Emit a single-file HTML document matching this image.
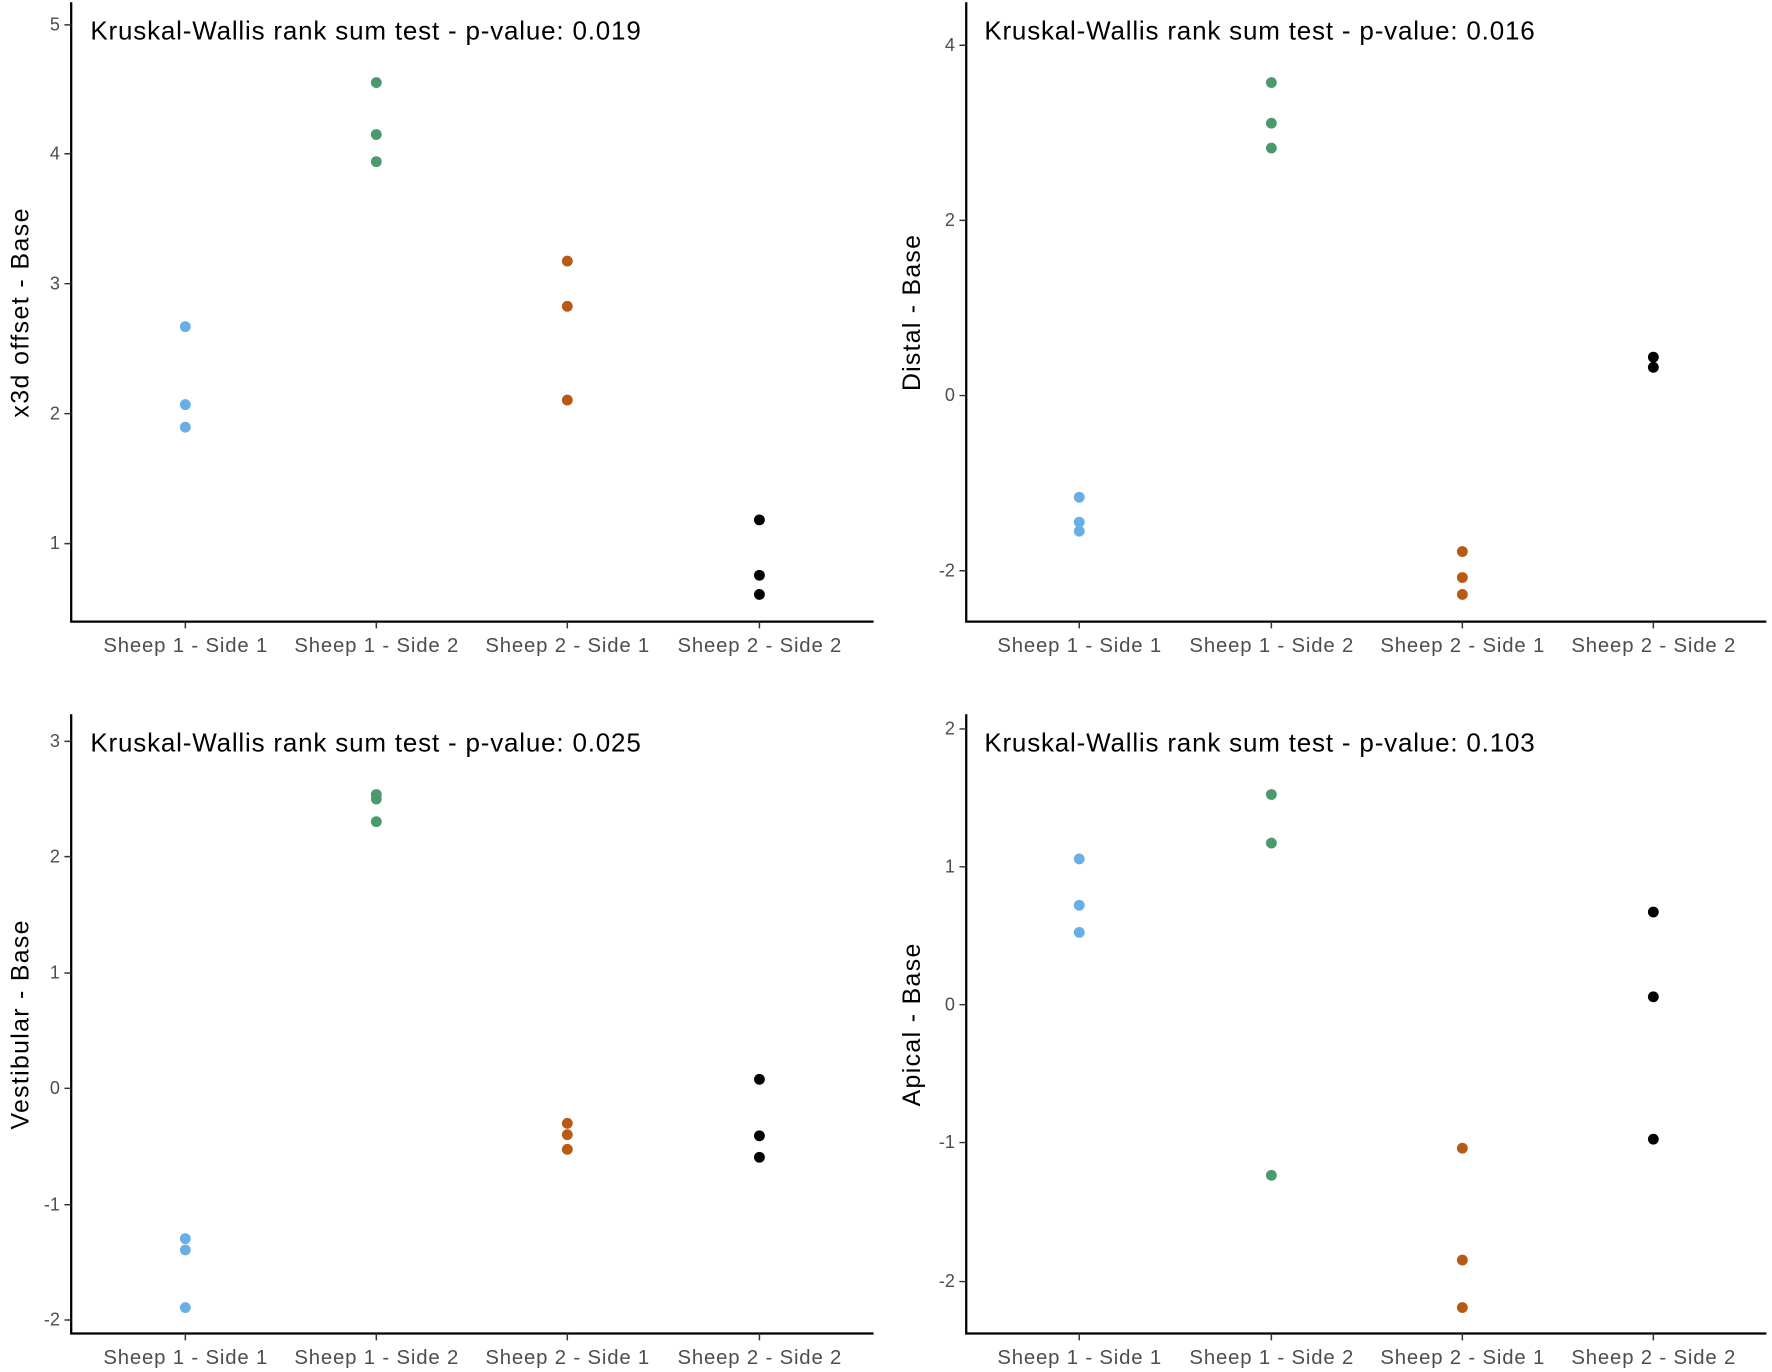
<!DOCTYPE html>
<html><head><meta charset="utf-8"><style>html,body{margin:0;padding:0;background:#fff}svg{display:block}</style></head>
<body>
<svg width="1772" height="1372" viewBox="0 0 1568 1214" xmlns="http://www.w3.org/2000/svg" font-family="Liberation Sans, sans-serif">
<rect width="1568" height="1214" fill="#fff"/>
<g stroke="#000" stroke-width="2" fill="none">
<path d="M63,2 V550 H773"/><path d="M855,2 V550 H1563"/>
<path d="M63,632 V1180 H773"/><path d="M855,632 V1180 H1563"/>
</g>
<g stroke="#333" stroke-width="1.3">
<path d="M57,22H63M57,136H63M57,251H63M57,366H63M57,481H63"/>
<path d="M164,550v6M333,550v6M502,550v6M672,550v6"/>
<path d="M849,40H855M849,195H855M849,350H855M849,505H855"/>
<path d="M955,550v6M1125,550v6M1294,550v6M1463,550v6"/>
<path d="M57,656H63M57,758H63M57,861H63M57,963H63M57,1066H63M57,1168H63"/>
<path d="M164,1180v6M333,1180v6M502,1180v6M672,1180v6"/>
<path d="M849,645H855M849,767H855M849,889H855M849,1011H855M849,1134H855"/>
<path d="M955,1180v6M1125,1180v6M1294,1180v6M1463,1180v6"/>
</g>
<g font-size="16" fill="#4d4d4d" text-anchor="end">
<text x="53" y="27">5</text><text x="53" y="141">4</text><text x="53" y="256">3</text><text x="53" y="371">2</text><text x="53" y="486">1</text>
<text x="845" y="45">4</text><text x="845" y="200">2</text><text x="845" y="355">0</text><text x="845" y="510">-2</text>
<text x="53" y="661">3</text><text x="53" y="763">2</text><text x="53" y="866">1</text><text x="53" y="968">0</text><text x="53" y="1071">-1</text><text x="53" y="1173">-2</text>
<text x="845" y="650">2</text><text x="845" y="772">1</text><text x="845" y="894">0</text><text x="845" y="1016">-1</text><text x="845" y="1139">-2</text>
</g>
<g font-size="18" fill="#4d4d4d" text-anchor="middle" textLength="145" lengthAdjust="spacingAndGlyphs">
<text x="164" y="577" textLength="145">Sheep 1 - Side 1</text><text x="333" y="577" textLength="145">Sheep 1 - Side 2</text><text x="502" y="577" textLength="145">Sheep 2 - Side 1</text><text x="672" y="577" textLength="145">Sheep 2 - Side 2</text>
<text x="955" y="577" textLength="145">Sheep 1 - Side 1</text><text x="1125" y="577" textLength="145">Sheep 1 - Side 2</text><text x="1294" y="577" textLength="145">Sheep 2 - Side 1</text><text x="1463" y="577" textLength="145">Sheep 2 - Side 2</text>
<text x="164" y="1207" textLength="145">Sheep 1 - Side 1</text><text x="333" y="1207" textLength="145">Sheep 1 - Side 2</text><text x="502" y="1207" textLength="145">Sheep 2 - Side 1</text><text x="672" y="1207" textLength="145">Sheep 2 - Side 2</text>
<text x="955" y="1207" textLength="145">Sheep 1 - Side 1</text><text x="1125" y="1207" textLength="145">Sheep 1 - Side 2</text><text x="1294" y="1207" textLength="145">Sheep 2 - Side 1</text><text x="1463" y="1207" textLength="145">Sheep 2 - Side 2</text>
</g>
<g font-size="22" fill="#000" text-anchor="middle" lengthAdjust="spacingAndGlyphs">
<text transform="translate(25,277) rotate(-90)" textLength="185">x3d offset - Base</text>
<text transform="translate(814,277) rotate(-90)" textLength="138">Distal - Base</text>
<text transform="translate(25,907) rotate(-90)" textLength="185">Vestibular - Base</text>
<text transform="translate(814,907) rotate(-90)" textLength="144">Apical - Base</text>
</g>
<g font-size="23" fill="#000" lengthAdjust="spacingAndGlyphs">
<text x="80" y="35" textLength="487">Kruskal-Wallis rank sum test - p-value: 0.019</text>
<text x="871" y="35" textLength="487">Kruskal-Wallis rank sum test - p-value: 0.016</text>
<text x="80" y="665" textLength="487">Kruskal-Wallis rank sum test - p-value: 0.025</text>
<text x="871" y="665" textLength="487">Kruskal-Wallis rank sum test - p-value: 0.103</text>
</g>
<g fill="#6aaee6">
<circle cx="164" cy="289" r="4.8"/><circle cx="164" cy="358" r="4.8"/><circle cx="164" cy="378" r="4.8"/>
<circle cx="955" cy="440" r="4.8"/><circle cx="955" cy="462" r="4.8"/><circle cx="955" cy="470" r="4.8"/>
<circle cx="164" cy="1096" r="4.8"/><circle cx="164" cy="1106" r="4.8"/><circle cx="164" cy="1157" r="4.8"/>
<circle cx="955" cy="760" r="4.8"/><circle cx="955" cy="801" r="4.8"/><circle cx="955" cy="825" r="4.8"/>
</g>
<g fill="#4a9a6e">
<circle cx="333" cy="73" r="4.8"/><circle cx="333" cy="119" r="4.8"/><circle cx="333" cy="143" r="4.8"/>
<circle cx="1125" cy="73" r="4.8"/><circle cx="1125" cy="109" r="4.8"/><circle cx="1125" cy="131" r="4.8"/>
<circle cx="333" cy="703" r="4.8"/><circle cx="333" cy="707" r="4.8"/><circle cx="333" cy="727" r="4.8"/>
<circle cx="1125" cy="703" r="4.8"/><circle cx="1125" cy="746" r="4.8"/><circle cx="1125" cy="1040" r="4.8"/>
</g>
<g fill="#b85a14">
<circle cx="502" cy="231" r="4.8"/><circle cx="502" cy="271" r="4.8"/><circle cx="502" cy="354" r="4.8"/>
<circle cx="1294" cy="488" r="4.8"/><circle cx="1294" cy="511" r="4.8"/><circle cx="1294" cy="526" r="4.8"/>
<circle cx="502" cy="994" r="4.8"/><circle cx="502" cy="1004" r="4.8"/><circle cx="502" cy="1017" r="4.8"/>
<circle cx="1294" cy="1016" r="4.8"/><circle cx="1294" cy="1115" r="4.8"/><circle cx="1294" cy="1157" r="4.8"/>
</g>
<g fill="#000">
<circle cx="672" cy="460" r="4.8"/><circle cx="672" cy="509" r="4.8"/><circle cx="672" cy="526" r="4.8"/>
<circle cx="1463" cy="316" r="4.8"/><circle cx="1463" cy="325" r="4.8"/>
<circle cx="672" cy="955" r="4.8"/><circle cx="672" cy="1005" r="4.8"/><circle cx="672" cy="1024" r="4.8"/>
<circle cx="1463" cy="807" r="4.8"/><circle cx="1463" cy="882" r="4.8"/><circle cx="1463" cy="1008" r="4.8"/>
</g>
</svg>
</body></html>
